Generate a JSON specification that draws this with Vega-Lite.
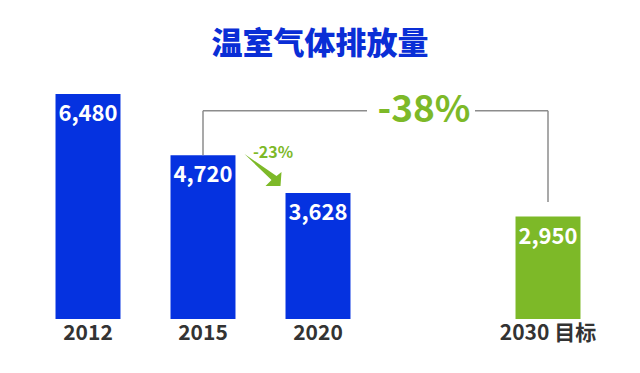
{
  "$schema": "https://vega.github.io/schema/vega-lite/v6.json",
  "width": 640,
  "height": 249,
  "autosize": {"type": "none"},
  "padding": {"left": 0, "top": 70, "right": 0, "bottom": 54},
  "background": "white",
  "title": {
    "text": "温室气体排放量",
    "font": "Noto Sans CJK SC",
    "fontSize": 31,
    "fontWeight": 900,
    "color": "#0A2ED6",
    "anchor": "middle",
    "baseline": "bottom",
    "offset": -22
  },
  "config": {"view": {"stroke": null}},
  "layer": [
    {
      "data": {
        "values": [
          {"year": "2012", "value": 6480, "label": "6,480", "type": "历史"},
          {"year": "2015", "value": 4720, "label": "4,720", "type": "历史"},
          {"year": "2020", "value": 3628, "label": "3,628", "type": "历史"},
          {"year": "2030 目标", "value": 2950, "label": "2,950", "type": "目标"}
        ]
      },
      "layer": [
        {
          "mark": {"type": "bar"},
          "encoding": {
            "x": {
              "field": "year",
              "type": "nominal",
              "sort": null,
              "scale": {"domain": ["2012", "2015", "2020", " ", "2030 目标"], "range": [30.5, 605.5], "paddingInner": 0.435, "paddingOuter": 0.2175},
              "axis": {
                "title": null,
                "domain": false,
                "ticks": false,
                "labelAngle": 0,
                "labelFont": "Noto Sans CJK SC",
                "labelFontSize": 21,
                "labelFontWeight": "bold",
                "labelColor": "#333333",
                "labelPadding": 3
              }
            },
            "y": {
              "field": "value",
              "type": "quantitative",
              "scale": {"domain": [0, 7172], "nice": false, "zero": true},
              "axis": null
            },
            "color": {
              "field": "type",
              "type": "nominal",
              "scale": {"domain": ["历史", "目标"], "range": ["#0532E0", "#7DB928"]},
              "legend": null
            }
          }
        },
        {
          "mark": {"type": "text", "baseline": "middle", "dy": 20, "color": "white", "font": "Noto Sans CJK SC", "fontSize": 22, "fontWeight": "bold"},
          "encoding": {
            "x": {"field": "year", "type": "nominal", "sort": null},
            "y": {"field": "value", "type": "quantitative"},
            "text": {"field": "label"}
          }
        }
      ]
    },
    {
      "data": {"values": [{"x": "2015", "y": 4720, "y2": 6000}, {"x": "2030 目标", "y": 3370, "y2": 6000}]},
      "mark": {"type": "rule", "color": "#8C8C8C", "strokeWidth": 1.5},
      "encoding": {
        "x": {"field": "x", "type": "nominal"},
        "y": {"field": "y", "type": "quantitative"},
        "y2": {"field": "y2"}
      }
    },
    {
      "data": {"values": [{"x": "2015", "x2": " ", "y": 6000}]},
      "mark": {"type": "rule", "color": "#8C8C8C", "strokeWidth": 1.5, "x2Offset": -66},
      "encoding": {
        "x": {"field": "x", "type": "nominal"},
        "x2": {"field": "x2"},
        "y": {"field": "y", "type": "quantitative"}
      }
    },
    {
      "data": {"values": [{"x": " ", "x2": "2030 目标", "y": 6000}]},
      "mark": {"type": "rule", "color": "#8C8C8C", "strokeWidth": 1.5, "xOffset": 42},
      "encoding": {
        "x": {"field": "x", "type": "nominal"},
        "x2": {"field": "x2"},
        "y": {"field": "y", "type": "quantitative"}
      }
    },
    {
      "data": {"values": [{"x": " ", "y": 6000, "label": "-38%"}]},
      "mark": {"type": "text", "baseline": "middle", "dx": -9, "color": "#7DB928", "font": "Noto Sans CJK SC", "fontSize": 37, "fontWeight": "bold"},
      "encoding": {
        "x": {"field": "x", "type": "nominal"},
        "y": {"field": "y", "type": "quantitative"},
        "text": {"field": "label"}
      }
    },
    {
      "data": {"values": [{"x": "2015", "y": 4767, "label": "-23%"}]},
      "mark": {"type": "text", "baseline": "middle", "dx": 70, "color": "#7DB928", "font": "Noto Sans CJK SC", "fontSize": 16, "fontWeight": "bold"},
      "encoding": {
        "x": {"field": "x", "type": "nominal"},
        "y": {"field": "y", "type": "quantitative"},
        "text": {"field": "label"}
      }
    },
    {
      "data": {"values": [{"x": "2015", "y": 4291}]},
      "mark": {"type": "point", "filled": true, "opacity": 1, "color": "#7DB928", "size": 1600, "xOffset": 60, "shape": "M-0.925,-0.8 L0.675,0.3 L0.925,0.1 L0.875,0.8 L0.125,0.8 L0.425,0.5 Z"},
      "encoding": {
        "x": {"field": "x", "type": "nominal"},
        "y": {"field": "y", "type": "quantitative"}
      }
    }
  ]
}
